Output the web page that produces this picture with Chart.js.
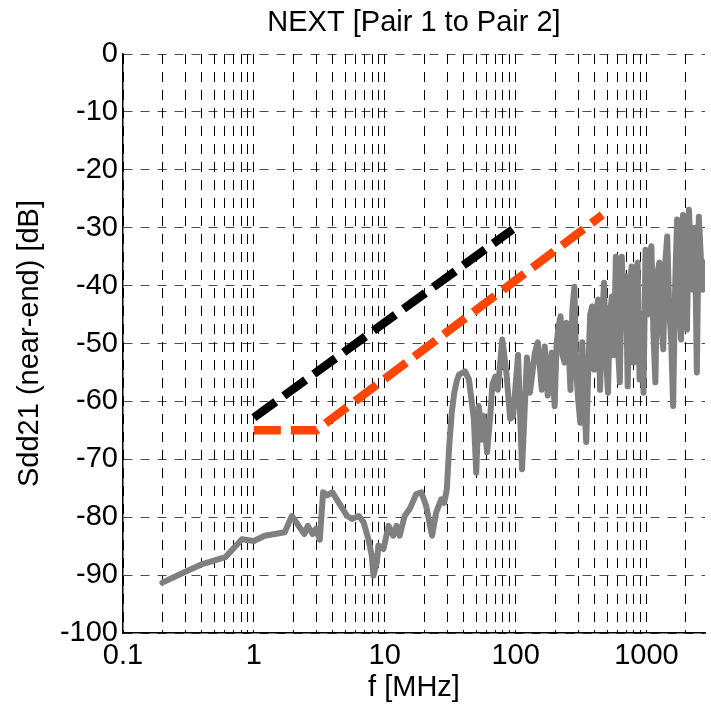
<!DOCTYPE html>
<html>
<head>
<meta charset="utf-8">
<title>NEXT [Pair 1 to Pair 2]</title>
<script src="https://cdn.jsdelivr.net/npm/chart.js@4.4.1/dist/chart.umd.min.js"></script>
<style>
  html, body { margin: 0; padding: 0; background: #fff; overflow: hidden; }
  #nextCanvas { display: block; }
</style>
</head>
<body>
<canvas id="nextCanvas" width="711" height="712"></canvas>
<script>
// measured NEXT, pair 1 -> pair 2 (frequency in MHz, level in dB)
var grayFreq = [0.2, 0.294, 0.404, 0.606, 0.81, 1.0, 1.21, 1.72, 1.95, 2.43, 2.58, 2.81, 2.98, 3.19, 3.38, 3.65, 3.98,
  4.6, 5.16, 5.62, 6.34, 6.9, 7.5, 7.97, 8.2, 8.7, 8.95, 9.77, 10.7, 11.6, 12.3, 13.0, 14.2, 15.5, 17.4, 19.0,
  20.7, 23.0, 24.7, 27.0, 28.5, 29.8, 31.1, 32.5, 34.0, 35.5, 36.9, 41.0, 44.0, 48.0, 50.0, 52.3, 55.5, 57.0,
  60.6, 64.3, 66.5, 70.0, 73.1, 79.1, 85.0, 90.9, 95.7, 104.4, 112, 122.1, 128.7, 140.3, 147.8, 158.5, 167, 176,
  188.6, 198.7, 205.7, 213.0, 220.5, 228.3, 236.4, 244.7, 253.4, 262.4, 271.6, 281.2, 291.2, 301.5, 312.1,
  323.2, 334.6, 346.4, 358.7, 371.4, 384.5, 398.1, 412.2, 426.7, 441.9, 457.5, 473.7, 490.4, 507.8, 525.7,
  544.3, 563.6, 583.4, 604.1, 625.4, 647.6, 670.5, 694.2, 718.8, 744.2, 770.5, 797.8, 826.0, 855.2, 885.6,
  916.9, 949.3, 982.9, 1017.4, 1053.4, 1090.7, 1129.3, 1169.2, 1210.6, 1253.4, 1297.8, 1343.7, 1391.2, 1440.4,
  1491.4, 1544.2, 1598.8, 1655.4, 1713.9, 1774.6, 1837.4, 1902.0, 1969.3, 2039.0, 2111.1, 2185.8, 2263.1,
  2343.2, 2426.1, 2511.9, 2600.8, 2692.8, 2740];
var grayDb = [-91.3, -89.5, -88.1, -86.9, -83.8, -84.1, -83.2, -82.6, -79.8, -82.9, -81.5, -82.9, -82.0, -83.9, -75.7, -76.2, -75.7,
  -78.0, -79.8, -80.3, -79.8, -80.9, -83.8, -86.7, -90.1, -87.8, -84.9, -85.5, -81.5, -83.2, -81.5, -83.2, -79.8, -78.6, -76.0, -75.7,
  -78.0, -83.2, -79.2, -76.9, -77.5, -75.2, -67.7, -62.0, -58.5, -56.5, -55.4, -54.8, -56.2, -63.1, -72.3, -60.8, -66.6, -62.5,
  -68.8, -61.9, -57.0, -55.7, -58.0, -49.3, -55.0, -63.0, -62.6, -52.0, -71.7, -52.4, -58.5, -51.6, -49.8, -58.0, -50.5, -59.0,
  -51.6, -60.8, -50.0, -47.0, -45.3, -52.0, -53.3, -46.4, -50.0, -58.0, -44.0, -40.2, -55.0, -60.0,
  -63.7, -49.8, -60.0, -67.0, -55.0, -45.0, -43.6, -54.5, -45.0, -42.4, -58.0, -47.0, -39.5, -52.0, -58.5, -45.0,
  -41.9, -52.0, -35.0, -50.0, -56.7, -35.0, -45.0, -38.4, -57.4, -40.0, -36.7, -53.3, -38.0, -36.0, -56.2,
  -45.0, -58.5, -33.8, -45.0, -35.0, -33.2, -48.0, -56.7, -38.0, -36.0, -46.0, -51.0, -36.0, -31.5,
  -44.0, -49.3, -60.8, -40.0, -28.6, -42.0, -49.3, -27.8, -38.0, -47.6, -26.9, -35.0, -40.7,
  -30.0, -55.0, -28.1, -35.0, -40.7, -36.0];

// limit lines
var blackFreq = [1, 95];
var blackDb = [-62.8, -30.3];
var orangeFreq = [1, 3, 460];
var orangeDb = [-65, -65, -27.8];

var yTicks = [-100, -90, -80, -70, -60, -50, -40, -30, -20, -10, 0];
var xDecades = [0.1, 1, 10, 100, 1000];
var xTickLabels = ['0.1', '1', '10', '100', '1000'];
var xMin = 0.1, xMax = 2800;

var fontFamily = '"Liberation Sans", Arial, sans-serif';

function toPoints(xs, ys) {
    var pts = [];
    for (var i = 0; i < xs.length; i++) {
        pts.push({x: xs[i], y: ys[i]});
    }
    return pts;
}

// grid lines at 1..9 of every decade
var xGridValues = [];
for (var d = 0; d < xDecades.length; d++) {
    for (var k = 1; k <= 9; k++) {
        var v = k * xDecades[d];
        if (v <= xMax) xGridValues.push(v);
    }
}
xGridValues.push(xMax);

var ctx = document.getElementById('nextCanvas');

var nextChart = new Chart(ctx, {
    type: 'line',
    data: {
        datasets: [
            {
                label: 'limit A',
                data: toPoints(blackFreq, blackDb),
                borderColor: '#000000',
                borderWidth: 8.5,
                borderDash: [27, 10],
                borderCapStyle: 'butt',
                pointRadius: 0,
                fill: false
            },
            {
                label: 'limit B',
                data: toPoints(orangeFreq, orangeDb),
                borderColor: '#ff4500',
                borderWidth: 8.5,
                borderDash: [27, 10],
                borderCapStyle: 'butt',
                pointRadius: 0,
                fill: false
            },
            {
                label: 'NEXT',
                data: toPoints(grayFreq, grayDb),
                borderColor: '#808080',
                borderWidth: 6,
                borderJoinStyle: 'round',
                borderCapStyle: 'round',
                pointRadius: 0,
                tension: 0,
                fill: false
            }
        ]
    },
    options: {
        responsive: false,
        animation: false,
        devicePixelRatio: 1,
        layout: { padding: 0 },
        plugins: {
            legend: { display: false },
            tooltip: { enabled: false },
            title: {
                display: true,
                fullSize: false,
                text: 'NEXT [Pair 1 to Pair 2]',
                color: '#000',
                font: { family: fontFamily, size: 29, weight: 'normal', lineHeight: 1.2 },
                padding: { top: 6, bottom: 13.2 }
            }
        },
        scales: {
            x: {
                type: 'logarithmic',
                min: xMin,
                max: xMax,
                afterBuildTicks: function (scale) {
                    scale.ticks = xGridValues.map(function (v) { return {value: v}; });
                },
                afterFit: function (scale) { scale.height = 79; },
                ticks: {
                    autoSkip: false,
                    maxRotation: 0,
                    padding: 6,
                    color: '#000',
                    font: { family: fontFamily, size: 29 },
                    callback: function (value) {
                        var i = xDecades.indexOf(value);
                        return i >= 0 ? xTickLabels[i] : '';
                    }
                },
                grid: {
                    drawTicks: false,
                    lineWidth: 1,
                    color: function (c) {
                        return (c.tick && c.tick.value >= xMax) ? 'rgba(0,0,0,0)' : '#000';
                    }
                },
                border: { display: true, color: '#000', width: 1.5, dash: [10, 8] },
                title: {
                    display: true,
                    text: 'f [MHz]',
                    color: '#000',
                    font: { family: fontFamily, size: 29, lineHeight: 1.2 },
                    padding: { top: 0, bottom: 6.6 }
                }
            },
            y: {
                type: 'linear',
                min: -100,
                max: 0,
                afterBuildTicks: function (scale) {
                    scale.ticks = yTicks.map(function (v) { return {value: v}; });
                },
                afterFit: function (scale) { scale.width = 123; },
                ticks: {
                    padding: 5,
                    color: '#000',
                    font: { family: fontFamily, size: 29 }
                },
                grid: {
                    drawTicks: false,
                    lineWidth: 1,
                    color: 'rgba(0,0,0,0.7)'
                },
                border: { display: true, color: '#000', width: 1.5, dash: [9, 8] },
                title: {
                    display: true,
                    text: 'Sdd21 (near-end) [dB]',
                    color: '#000',
                    font: { family: fontFamily, size: 29, lineHeight: 1.2 },
                    padding: { top: 12.6, bottom: 0 }
                }
            }
        }
    }
});
</script>
</body>
</html>
